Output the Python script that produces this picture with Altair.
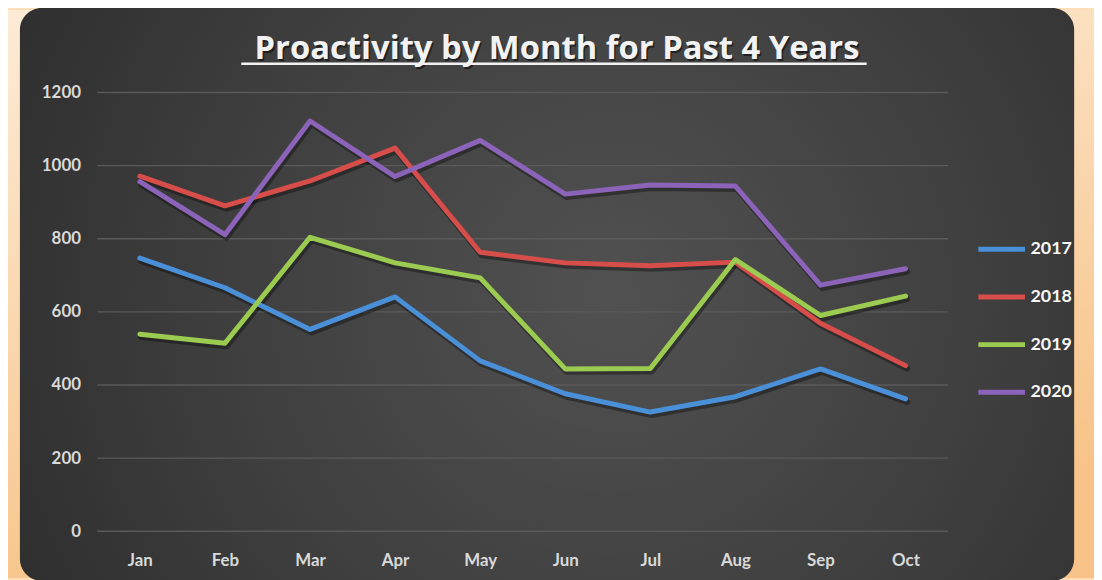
import altair as alt
import pandas as pd

months = ["Jan", "Feb", "Mar", "Apr", "May", "Jun", "Jul", "Aug", "Sep", "Oct"]
years = ["2017", "2018", "2019", "2020"]
v2017 = [747, 666, 552, 641, 466, 376, 326, 368, 444, 362]
v2018 = [971, 890, 958, 1048, 763, 734, 726, 736, 569, 453]
v2019 = [539, 514, 804, 734, 693, 444, 445, 743, 590, 643]
v2020 = [956, 811, 1122, 970, 1069, 922, 947, 944, 673, 718]
y_ticks = [0, 200, 400, 600, 800, 1000, 1200]
colors = ["#4A90D9", "#D64D4A", "#9BCB50", "#8B63B8"]
title_text = "Proactivity by Month for Past 4 Years"

rows = []
for y, vals in zip(years, [v2017, v2018, v2019, v2020]):
    for m, v in zip(months, vals):
        rows.append({"month": m, "year": y, "value": v})
df = pd.DataFrame(rows)
ticks_df = pd.DataFrame({"value": y_ticks})
one = pd.DataFrame({"k": [0]})

FONT = "Lato"
TFONT = "Open Sans"
W, H = 857, 442

y_scale = alt.Scale(domain=[0, 1200], nice=False)
x_enc = alt.X("month:N", sort=months, title=None,
              scale=alt.Scale(type="point", padding=0.5),
              axis=alt.Axis(labelAngle=0, ticks=False, domain=False, grid=False, zindex=2,
                            labelPadding=22, labelFontSize=17, labelFont=FONT,
                            labelFontWeight="bold", labelColor="#D9D9D9"))
y_enc = alt.Y("value:Q", title=None, scale=y_scale,
              axis=alt.Axis(values=y_ticks, format="d", ticks=False, domain=False,
                            grid=False, zindex=2,
                            labelPadding=17, labelFontSize=17, labelFont=FONT,
                            labelFontWeight="bold", labelColor="#D9D9D9"))

bg = alt.Chart(one).mark_rect(
    fill=alt.Gradient(gradient="linear", x1=0, y1=0, x2=0.3, y2=1,
                      stops=[alt.GradientStop(color="#FDEBD6", offset=0),
                             alt.GradientStop(color="#F7C388", offset=1)])
).encode(x=alt.value(-90), x2=alt.value(1004), y=alt.value(-83), y2=alt.value(489))

panel = alt.Chart(one).mark_rect(
    cornerRadius=22,
    fill=alt.Gradient(gradient="radial", x1=0.56, y1=0.5, r1=0, x2=0.56, y2=0.5, r2=0.75,
                      stops=[alt.GradientStop(color="#515151", offset=0),
                             alt.GradientStop(color="#3E3E3E", offset=0.5),
                             alt.GradientStop(color="#272727", offset=1)])
).encode(x=alt.value(-78), x2=alt.value(984), y=alt.value(-85), y2=alt.value(492))

grid = alt.Chart(ticks_df).mark_rule(color="#5A5A5A", strokeWidth=1.3).encode(
    y=y_enc, x=alt.value(0), x2=alt.value(W))

shadow = alt.Chart(df).mark_line(
    strokeWidth=6, color="black", opacity=0.35, xOffset=1.5, yOffset=3,
    strokeCap="round", strokeJoin="round"
).encode(x=x_enc, y=y_enc, detail="year:N")

lines = alt.Chart(df).mark_line(
    strokeWidth=5, strokeCap="round", strokeJoin="round"
).encode(
    x=x_enc, y=y_enc,
    color=alt.Color("year:N", sort=years, scale=alt.Scale(domain=years, range=colors),
                    legend=alt.Legend(title=None, orient="none", legendX=885, legendY=132,
                                      symbolType="stroke", symbolSize=2209,
                                      symbolStrokeWidth=5, rowPadding=12, padding=0,
                                      labelOffset=3, labelFontSize=18, labelFont=FONT,
                                      labelFontWeight="bold", labelColor="#F7F7F7"))
)

title_shadow = alt.Chart(one).mark_text(
    text=title_text, font=TFONT, fontSize=33, fontWeight="bold", color="black",
    opacity=0.5, align="center", baseline="alphabetic", dx=1.5, dy=2
).encode(x=alt.value(463), y=alt.value(-34))

title = alt.Chart(one).mark_text(
    text=title_text, font=TFONT, fontSize=33, fontWeight="bold", color="#F2F2F2",
    align="center", baseline="alphabetic"
).encode(x=alt.value(463), y=alt.value(-34))

underline = alt.Chart(one).mark_rule(color="#F2F2F2", strokeWidth=2.5).encode(
    x=alt.value(145), x2=alt.value(775), y=alt.value(-29))

chart = alt.layer(bg, panel, grid, shadow, lines, title_shadow, title, underline).properties(
    width=W, height=H,
    autosize=alt.AutoSizeParams(type="none"),
    padding={"left": 90, "top": 83, "right": 147, "bottom": 47},
).configure(background="#FBDDB8").configure_view(stroke=None)

chart.save("out.html", embed_options={"renderer": "svg", "actions": False})
